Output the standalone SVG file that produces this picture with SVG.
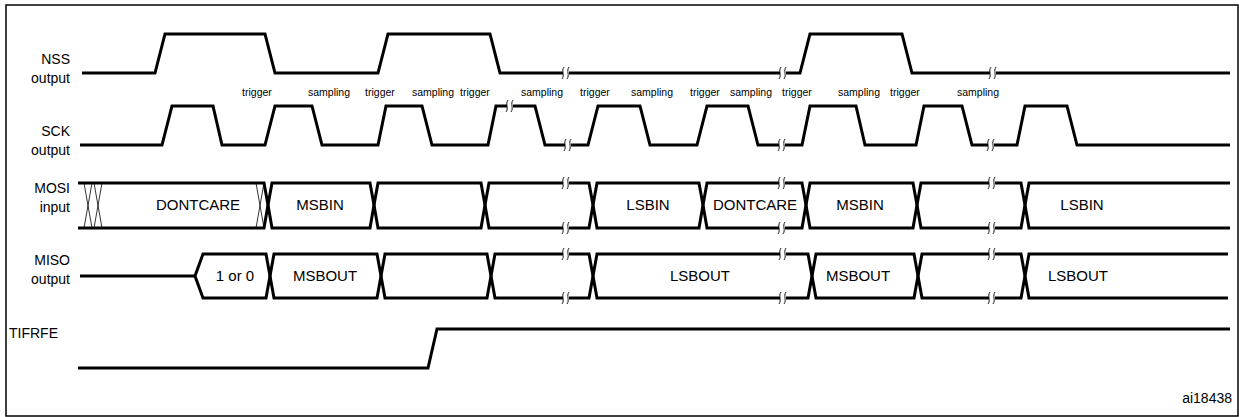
<svg xmlns="http://www.w3.org/2000/svg" width="1239" height="417" viewBox="0 0 1239 417">
<style>
.sig{fill:none;stroke:#000;stroke-width:3;stroke-linejoin:miter}
.thin{fill:none;stroke:#000;stroke-width:0.8}
.lbl{font-family:"Liberation Sans",Arial,sans-serif;font-size:14px;fill:#000}
.sm{font-family:"Liberation Sans",Arial,sans-serif;font-size:10.5px;fill:#000;text-anchor:middle}
.bt{font-family:"Liberation Sans",Arial,sans-serif;font-size:15px;fill:#000;text-anchor:middle}
</style>
<defs>
<g id="brk"><rect x="-3" y="-4" width="6" height="8" fill="#fff"/><path d="M-4,6 C-1,2 -5,-2 -2,-6 M1,6 C4,2 0,-2 3,-6" fill="none" stroke="#000" stroke-width="0.9"/></g>
</defs>
<rect x="6" y="5" width="1232" height="411" fill="#fff" stroke="#000" stroke-width="1.5"/>
<g id="labels">
<text class="lbl" x="70" y="64" text-anchor="end">NSS</text><text class="lbl" x="70" y="83" text-anchor="end">output</text>
<text class="lbl" x="70" y="136" text-anchor="end">SCK</text><text class="lbl" x="70" y="155" text-anchor="end">output</text>
<text class="lbl" x="70" y="193" text-anchor="end">MOSI</text><text class="lbl" x="70" y="212" text-anchor="end">input</text>
<text class="lbl" x="70" y="265" text-anchor="end">MISO</text><text class="lbl" x="70" y="284" text-anchor="end">output</text>
<text class="lbl" x="9" y="338">TIFRFE</text>
<text class="lbl" x="1232" y="403" text-anchor="end">ai18438</text>
</g>
<g id="nss">
<path class="sig" d="M82,73 H155 L165,34 H265 L275,73 H378 L388,34 H490 L500,73 H800 L810,34 H902 L912,73 H1230"/>
<use href="#brk" x="566" y="73"/><use href="#brk" x="783" y="73"/><use href="#brk" x="993" y="73"/>
</g>
<g id="sck-labels">
<text class="sm" x="257" y="96">trigger</text><text class="sm" x="329" y="96">sampling</text>
<text class="sm" x="380" y="96">trigger</text><text class="sm" x="433" y="96">sampling</text>
<text class="sm" x="475" y="96">trigger</text><text class="sm" x="542" y="96">sampling</text>
<text class="sm" x="595" y="96">trigger</text><text class="sm" x="652" y="96">sampling</text>
<text class="sm" x="705" y="96">trigger</text><text class="sm" x="751" y="96">sampling</text>
<text class="sm" x="797" y="96">trigger</text><text class="sm" x="859" y="96">sampling</text>
<text class="sm" x="905" y="96">trigger</text><text class="sm" x="978" y="96">sampling</text>
</g>
<g id="sck">
<path class="sig" d="M80,145 H162 L172,106 H213 L222,145 H265 L275,106 H312 L322,145 H378 L386,106 H422 L432,145 H488 L496,106 H535 L545,145 H588 L598,106 H640 L650,145 H697 L707,106 H748 L758,145 H802 L810,106 H856 L865,145 H916 L924,106 H962 L972,145 H1017 L1025,106 H1067 L1077,145 H1230"/>
<use href="#brk" x="510" y="106"/><use href="#brk" x="568" y="145"/><use href="#brk" x="782" y="145"/><use href="#brk" x="991" y="145"/>
</g>
<g id="mosi">
<path class="thin" d="M84,183 L92,228 M92,183 L84,228 M94,183 L102,228 M102,183 L94,228 M256,183 L264,228 M264,183 L256,228"/>
<path class="sig" d="M78,183 H264 L268,205 L264,228 H78"/>
<path class="sig" d="M272,183 H370 L374,205 L370,228 H272 L268,205 Z"/>
<path class="sig" d="M378,183 H481 L485,205 L481,228 H378 L374,205 Z"/>
<path class="sig" d="M489,183 H589 L593,205 L589,228 H489 L485,205 Z"/>
<path class="sig" d="M597,183 H699 L703,205 L699,228 H597 L593,205 Z"/>
<path class="sig" d="M707,183 H802 L806,205 L802,228 H707 L703,205 Z"/>
<path class="sig" d="M810,183 H913 L917,205 L913,228 H810 L806,205 Z"/>
<path class="sig" d="M921,183 H1021 L1025,205 L1021,228 H921 L917,205 Z"/>
<path class="sig" d="M1230,183 H1029 L1025,205 L1029,228 H1230"/>
<use href="#brk" x="566" y="183"/><use href="#brk" x="566" y="228"/>
<use href="#brk" x="782" y="183"/><use href="#brk" x="782" y="228"/>
<use href="#brk" x="992" y="183"/><use href="#brk" x="992" y="228"/>
<text class="bt" x="198" y="210">DONTCARE</text><text class="bt" x="320" y="210">MSBIN</text>
<text class="bt" x="648" y="210">LSBIN</text><text class="bt" x="755" y="210">DONTCARE</text>
<text class="bt" x="860" y="210">MSBIN</text><text class="bt" x="1082" y="210">LSBIN</text>
</g>
<g id="miso">
<path class="sig" d="M80,276 H195"/>
<path class="sig" d="M203,254 H266 L270,276 L266,298 H203 L195,276 Z"/>
<path class="sig" d="M274,254 H377 L381,276 L377,298 H274 L270,276 Z"/>
<path class="sig" d="M385,254 H487 L491,276 L487,298 H385 L381,276 Z"/>
<path class="sig" d="M495,254 H589 L593,276 L589,298 H495 L491,276 Z"/>
<path class="sig" d="M597,254 H808 L812,276 L808,298 H597 L593,276 Z"/>
<path class="sig" d="M816,254 H914 L918,276 L914,298 H816 L812,276 Z"/>
<path class="sig" d="M922,254 H1021 L1025,276 L1021,298 H922 L918,276 Z"/>
<path class="sig" d="M1228,254 H1029 L1025,276 L1029,298 H1228"/>
<use href="#brk" x="566" y="254"/><use href="#brk" x="566" y="298"/>
<use href="#brk" x="783" y="254"/><use href="#brk" x="783" y="298"/>
<use href="#brk" x="992" y="254"/><use href="#brk" x="992" y="298"/>
<text class="bt" x="235" y="281">1 or 0</text><text class="bt" x="325" y="281">MSBOUT</text>
<text class="bt" x="700" y="281">LSBOUT</text><text class="bt" x="858" y="281">MSBOUT</text>
<text class="bt" x="1078" y="281">LSBOUT</text>
</g>
<g id="tifrfe">
<path class="sig" d="M78,368 H428 L437,329 H1230"/>
</g>
</svg>
